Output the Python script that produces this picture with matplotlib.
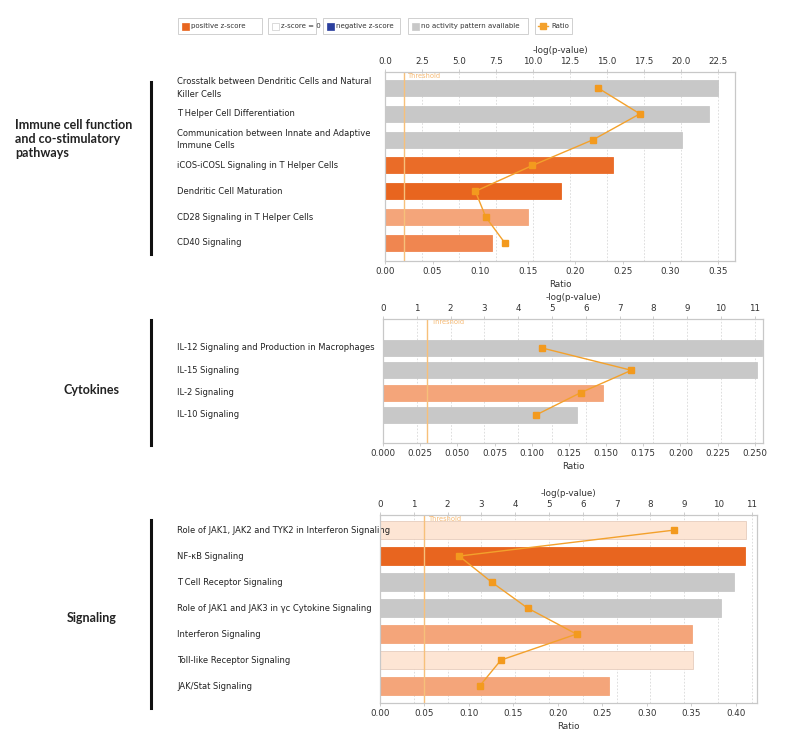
import matplotlib
matplotlib.use("Agg")
import matplotlib.pyplot as plt
from matplotlib.patches import Rectangle
from matplotlib.lines import Line2D
from matplotlib.transforms import blended_transform_factory
import numpy as np

# colours of the activation classes
POS_DARK = '#e8651f'
POS_MID = '#f08650'
POS_LIGHT = '#f4a57a'
ZERO = '#fde5d4'
GREY = '#c8c8c8'
RATIO_COL = '#f3a12c'

# ---- data ----
imm_paths = ['Crosstalk between Dendritic Cells and Natural\nKiller Cells',
             'T Helper Cell Differentiation',
             'Communication between Innate and Adaptive\nImmune Cells',
             'iCOS-iCOSL Signaling in T Helper Cells',
             'Dendritic Cell Maturation',
             'CD28 Signaling in T Helper Cells',
             'CD40 Signaling']
imm_logp = [22.5, 21.9, 20.1, 15.4, 11.9, 9.7, 7.2]
imm_ratio = [0.224, 0.268, 0.219, 0.155, 0.095, 0.106, 0.126]
imm_cols = [GREY, GREY, GREY, '#ea6c28', POS_DARK, POS_LIGHT, POS_MID]

cyt_paths = ['IL-12 Signaling and Production in Macrophages',
             'IL-15 Signaling',
             'IL-2 Signaling',
             'IL-10 Signaling']
cyt_logp = [11.2, 11.07, 6.5, 5.75]
cyt_ratio = [0.107, 0.167, 0.133, 0.103]
cyt_cols = [GREY, GREY, POS_LIGHT, GREY]

sig_paths = ['Role of JAK1, JAK2 and TYK2 in Interferon Signaling',
             'NF-\u03baB Signaling',
             'T Cell Receptor Signaling',
             'Role of JAK1 and JAK3 in \u03b3c Cytokine Signaling',
             'Interferon Signaling',
             'Toll-like Receptor Signaling',
             'JAK/Stat Signaling']
sig_logp = [10.83, 10.8, 10.48, 10.10, 9.22, 9.25, 6.77]
sig_ratio = [0.331, 0.089, 0.1255, 0.166, 0.221, 0.136, 0.112]
sig_cols = [ZERO, POS_DARK, GREY, GREY, POS_LIGHT, ZERO, POS_LIGHT]

threshold = 1.3

W, H = 800, 750
fig = plt.figure(figsize=(8, 7.5), dpi=100)


def fx(x):
    return x / W


def fy(y):
    return 1 - y / H


def panel(rect, paths, logp, ratio, cols, top_lim, top_ticks, top_fmt,
          rat_lim, rat_ticks, rat_fmt, ypad, bar_h):
    left, top, right, bottom = rect
    ax = fig.add_axes([fx(left), fy(bottom), fx(right - left), (bottom - top) / H])
    ax2 = ax.twiny()   # twiny resets ax's tick side, so set sides afterwards
    n = len(paths)
    y = np.arange(n)
    edges = ['#e6cdbd' if c == ZERO else c for c in cols]
    ax.barh(y, logp, height=bar_h, color=cols, edgecolor=edges, linewidth=0.6, zorder=2)
    ax.set_ylim(n - 1 + ypad[1], -ypad[0])
    ax.set_xlim(0, top_lim)
    ax.set_yticks([])
    ax.xaxis.tick_top()
    ax.xaxis.set_label_position('top')
    ax.set_xticks(top_ticks)
    ax.set_xticklabels([top_fmt.format(t) for t in top_ticks])
    ax.set_xlabel('-log(p-value)', fontsize=6.3, labelpad=3, color='#333333')
    ax.grid(axis='x', color='#d8d8d8', linestyle=(0, (2, 2)), linewidth=0.6)
    ax.set_axisbelow(True)
    ax.axvline(threshold, color='#f7c07a', linewidth=1.0, zorder=3)
    ax.text(threshold + 0.012 * top_lim, 0.997, 'Threshold',
            transform=blended_transform_factory(ax.transData, ax.transAxes),
            fontsize=4.8, color='#f5b060', ha='left', va='top', alpha=0.9, zorder=5)

    ax2.xaxis.tick_bottom()
    ax2.xaxis.set_label_position('bottom')
    ax2.set_xlim(0, rat_lim)
    ax2.set_xticks(rat_ticks)
    ax2.set_xticklabels([rat_fmt.format(t) for t in rat_ticks])
    ax2.set_xlabel('Ratio', fontsize=6.3, labelpad=3, color='#333333')
    ax2.plot(ratio, y, color=RATIO_COL, linewidth=1.0, marker='s', markersize=4.5,
             markerfacecolor='#f39a1e', markeredgecolor='#f39a1e', zorder=4)

    for a in (ax, ax2):
        a.tick_params(axis='x', labelsize=6.3, length=2, width=0.5, color='#bbbbbb',
                      labelcolor='#333333', pad=2)
        for s in a.spines.values():
            s.set_color('#c8c8c8')
            s.set_linewidth(0.8)

    trans = blended_transform_factory(fig.transFigure, ax.transData)
    for yi, name in zip(y, paths):
        ax.text(fx(177), yi, name, transform=trans, fontsize=6, color='#222222',
                ha='left', va='center', linespacing=1.5)
    return ax


panel((385, 72, 735, 261), imm_paths, imm_logp, imm_ratio, imm_cols,
      23.66, np.arange(0, 22.6, 2.5), '{:.1f}', 0.368, np.arange(0, 0.351, 0.05), '{:.2f}',
      (0.62, 0.70), 0.62)
panel((383, 319, 763, 443), cyt_paths, cyt_logp, cyt_ratio, cyt_cols,
      11.24, np.arange(0, 12), '{:.0f}', 0.2555, np.arange(0, 0.251, 0.025), '{:.3f}',
      (1.3, 1.26), 0.72)
panel((380, 515, 757, 703), sig_paths, sig_logp, sig_ratio, sig_cols,
      11.15, np.arange(0, 12), '{:.0f}', 0.424, np.arange(0, 0.401, 0.05), '{:.2f}',
      (0.58, 0.65), 0.7)

# group labels and brackets
grp_font = ['Lato', 'DejaVu Sans']
fig.text(fx(15), fy(139), 'Immune cell function\nand co-stimulatory\npathways', fontsize=9,
         fontweight='bold', family=grp_font, ha='left', va='center', linespacing=1.2, color='#222222')
fig.text(fx(91), fy(390), 'Cytokines', fontsize=9, fontweight='bold', family=grp_font,
         ha='center', va='center', color='#222222')
fig.text(fx(92), fy(618), 'Signaling', fontsize=9, fontweight='bold', family=grp_font,
         ha='center', va='center', color='#222222')
for y0, y1 in [(82, 254), (320, 445), (520, 708)]:
    fig.add_artist(Line2D([fx(151), fx(151)], [fy(y0), fy(y1)], color='#111111', linewidth=2.2))

# legend boxes across the top
legend_items = [
    (178, 262, 'square', POS_DARK, 'positive z-score'),
    (268, 316, 'square', 'white', 'z-score = 0'),
    (323, 400, 'square', '#2b3f9e', 'negative z-score'),
    (408, 528, 'square', GREY, 'no activity pattern available'),
    (535, 572, 'line', RATIO_COL, 'Ratio'),
]
for x0, x1, kind, col, label in legend_items:
    fig.add_artist(Rectangle((fx(x0), fy(34)), fx(x1 - x0), 16 / H, transform=fig.transFigure,
                             facecolor='white', edgecolor='#d0d0d0', linewidth=0.7))
    if kind == 'square':
        fig.add_artist(Rectangle((fx(x0 + 4), fy(30)), fx(7), 7 / H, transform=fig.transFigure,
                                 facecolor=col, edgecolor='#cccccc' if col == 'white' else col,
                                 linewidth=0.5))
        tx = x0 + 13
    else:
        fig.add_artist(Line2D([fx(x0 + 3), fx(x0 + 13)], [fy(26), fy(26)], color=col, linewidth=1.0))
        fig.add_artist(Line2D([fx(x0 + 8)], [fy(26)], color=col, marker='s', markersize=4))
        tx = x0 + 16
    fig.text(fx(tx), fy(26), label, fontsize=5.0, color='#333333', ha='left', va='center')

fig.savefig('out.png', dpi=100, facecolor='white')
